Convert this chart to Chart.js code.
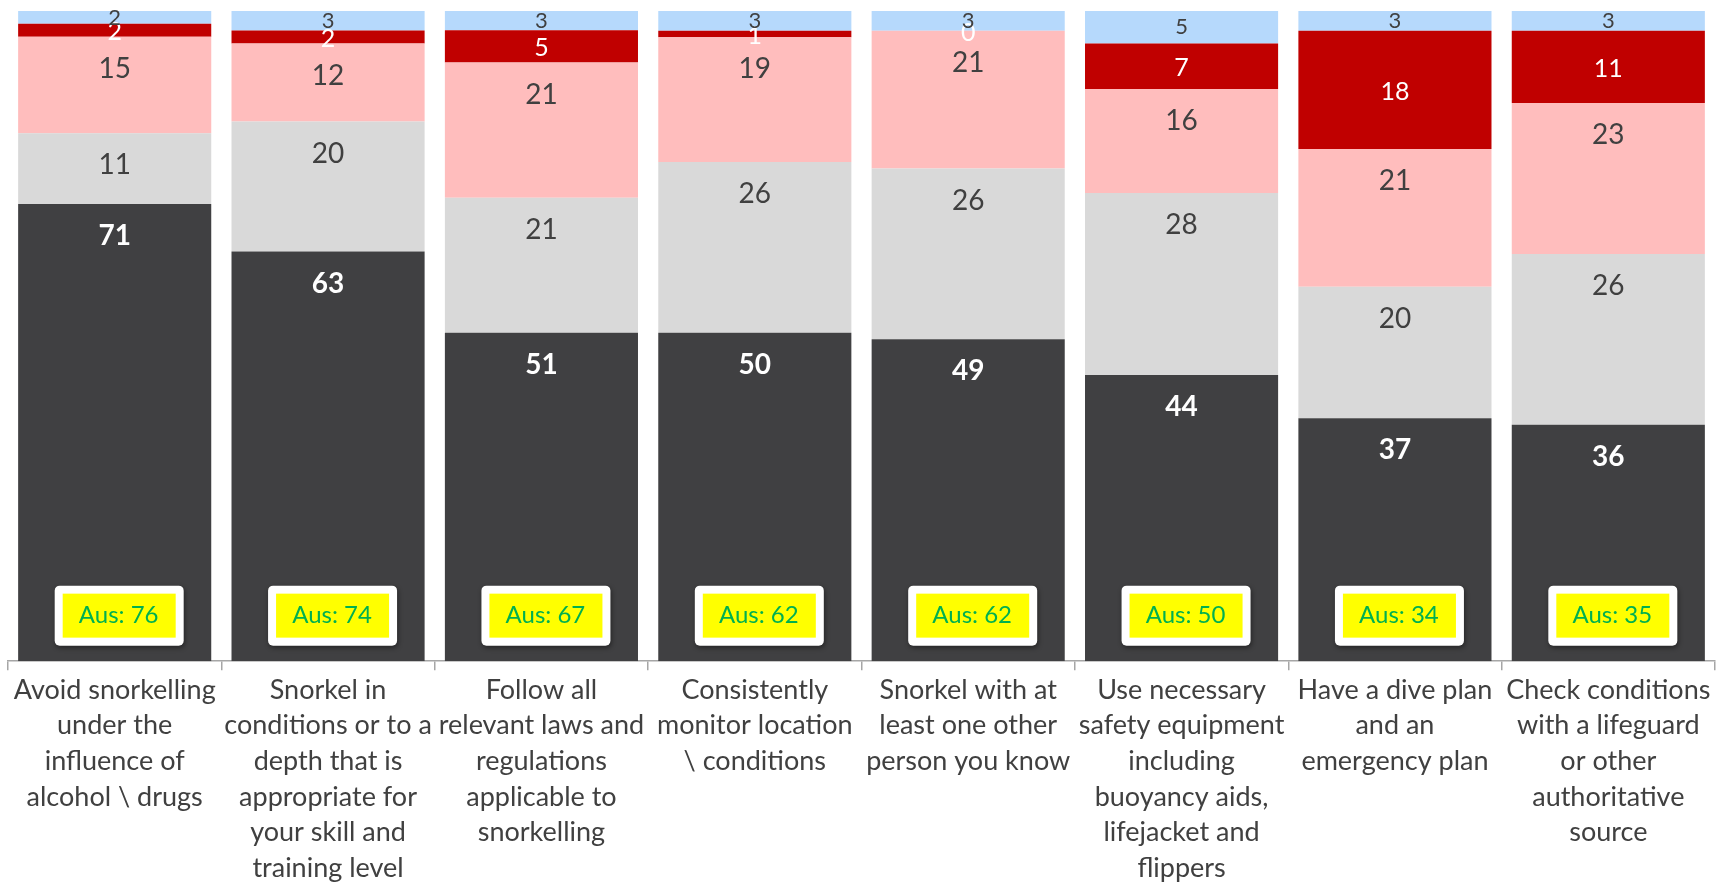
<!DOCTYPE html>
<html>
<head>
<meta charset="utf-8">
<script src="https://cdn.jsdelivr.net/npm/chart.js@4"></script>
<style>
  html, body { margin: 0; padding: 0; background: #fff; }
  #wrap { width: 1723px; height: 888px; }
</style>
</head>
<body>
<div id="wrap"><canvas id="grafico"></canvas></div>
<script>
var categorias = [
  ['Avoid snorkelling', 'under the', 'influence of', 'alcohol \\ drugs'],
  ['Snorkel in', 'conditions or to a', 'depth that is', 'appropriate for', 'your skill and', 'training level'],
  ['Follow all', 'relevant laws and', 'regulations', 'applicable to', 'snorkelling'],
  ['Consistently', 'monitor location', '\\ conditions'],
  ['Snorkel with at', 'least one other', 'person you know'],
  ['Use necessary', 'safety equipment', 'including', 'buoyancy aids,', 'lifejacket and', 'flippers'],
  ['Have a dive plan', 'and an', 'emergency plan'],
  ['Check conditions', 'with a lifeguard', 'or other', 'authoritative', 'source']
];

var sempre    = [71, 63, 51, 50, 49, 44, 37, 36];
var geralmente = [11, 20, 21, 26, 26, 28, 20, 26];
var asVezes   = [15, 12, 21, 19, 21, 16, 21, 23];
var nunca     = [2, 2, 5, 1, 0, 7, 18, 11];
var naoSei    = [2, 3, 3, 3, 3, 5, 3, 3];
var aus       = [76, 74, 67, 62, 62, 50, 34, 35];

var series = [sempre, geralmente, asVezes, nunca, naoSei];
var nomes = ['Always', 'Mostly', 'Sometimes', 'Never', 'Unsure'];
var cores = ['#404042', '#d9d9d9', '#ffbdbd', '#c00000', '#b6d9fc'];

// 100% stacked: each bar is scaled to its own total
var totais = sempre.map(function (v, i) {
  return series.reduce(function (s, arr) { return s + arr[i]; }, 0);
});

var FONTE = 'Lato, "Open Sans", sans-serif';

var rotulos = {
  id: 'rotulos',
  afterDatasetsDraw: function (chart) {
    var ctx = chart.ctx;
    ctx.save();
    ctx.textAlign = 'center';
    ctx.textBaseline = 'middle';
    chart.data.datasets.forEach(function (ds, d) {
      var meta = chart.getDatasetMeta(d);
      meta.data.forEach(function (el, i) {
        var valor = series[d][i];
        var y;
        if (d === 0) {
          ctx.font = 'bold 28px ' + FONTE;
          ctx.fillStyle = '#ffffff';
          y = el.y + 32;
        } else if (d === 1 || d === 2) {
          ctx.font = '28px ' + FONTE;
          ctx.fillStyle = '#404040';
          y = el.y + 32;
        } else if (d === 3) {
          ctx.font = '25px ' + FONTE;
          ctx.fillStyle = '#ffffff';
          y = (el.y + el.base) / 2 + 2;
        } else {
          ctx.font = '22px ' + FONTE;
          ctx.fillStyle = '#404040';
          y = (el.y + el.base) / 2;
        }
        ctx.fillText(String(valor), el.x, y);
      });
    });

    // "Aus" comparison boxes
    var xs = chart.scales.x, ys = chart.scales.y;
    var yc = ys.getPixelForValue(7);
    aus.forEach(function (v, i) {
      var xc = xs.getPixelForValue(i) + 4;
      ctx.save();
      ctx.shadowColor = 'rgba(0,0,0,0.45)';
      ctx.shadowBlur = 5;
      ctx.shadowOffsetX = 1;
      ctx.shadowOffsetY = 2;
      ctx.fillStyle = '#ffffff';
      ctx.beginPath();
      ctx.roundRect(xc - 64, yc - 30, 129, 60, 5);
      ctx.fill();
      ctx.restore();
      ctx.fillStyle = '#ffff00';
      ctx.fillRect(xc - 56, yc - 22, 113, 44);
      ctx.font = '24px ' + FONTE;
      ctx.fillStyle = '#00b050';
      ctx.fillText('Aus: ' + v, xc, yc);
    });
    ctx.restore();
  }
};

var grafico = document.getElementById('grafico').getContext('2d');
new Chart(grafico, {
  type: 'bar',
  data: {
    labels: categorias,
    datasets: series.map(function (arr, d) {
      return {
        label: nomes[d],
        data: arr.map(function (v, i) { return v / totais[i] * 100; }),
        backgroundColor: cores[d],
        borderWidth: 0,
        categoryPercentage: 1,
        barPercentage: 0.905
      };
    })
  },
  options: {
    responsive: true,
    maintainAspectRatio: false,
    animation: false,
    layout: { padding: { top: 11, left: 8, right: 8, bottom: 0 } },
    plugins: {
      legend: { display: false },
      tooltip: { enabled: false }
    },
    scales: {
      x: {
        stacked: true,
        grid: {
          offset: true,
          drawOnChartArea: false,
          color: '#a6a6a6',
          tickLength: 9,
          lineWidth: 1.5
        },
        border: { color: '#a6a6a6', width: 1.5 },
        ticks: {
          autoSkip: false,
          maxRotation: 0,
          padding: 2,
          color: '#404040',
          font: { family: FONTE, size: 27, lineHeight: 1.32 }
        }
      },
      y: {
        stacked: true,
        display: false,
        min: 0,
        max: 100
      }
    }
  },
  plugins: [rotulos]
});
</script>
</body>
</html>
